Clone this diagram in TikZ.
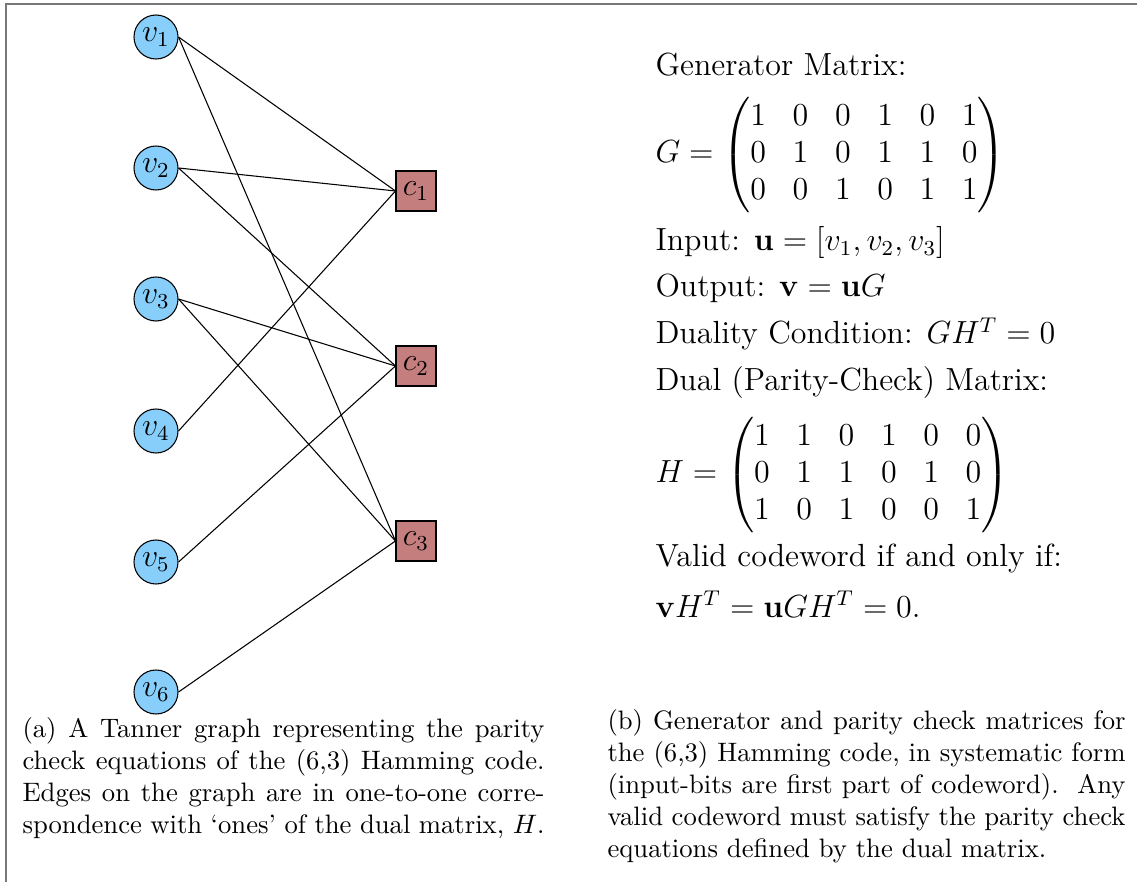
\documentclass[tikz,border=0pt]{standalone}
\usepackage{amsmath}
\definecolor{vblue}{RGB}{135,206,250}
\definecolor{cred}{RGB}{196,126,126}
\definecolor{framecol}{RGB}{120,120,120}
\begin{document}
\begin{tikzpicture}[x=0.375pt,y=-0.375pt,
  vnode/.style={circle,draw,fill=vblue,minimum size=16.5pt,inner sep=0pt,font=\large},
  cnode/.style={rectangle,draw,fill=cred,minimum size=15pt,inner sep=0pt,font=\large},
  link/.style={line width=0.4pt},
  txt/.style={anchor=base west,inner sep=0pt,font=\large},
  mat/.style={anchor=west,inner sep=0pt,font=\large},
  captxt/.style={anchor=base west,inner sep=0pt,font=\normalsize}]
\useasboundingbox (0,0) rectangle (1137,882);
\draw[framecol,line width=0.7pt] (6,882) -- (6,4) -- (1137,4);
% variable nodes
\node[vnode] (v1) at (156,37) {$v_1$};
\node[vnode] (v2) at (156,168) {$v_2$};
\node[vnode] (v3) at (156,299) {$v_3$};
\node[vnode] (v4) at (156,431) {$v_4$};
\node[vnode] (v5) at (156,562) {$v_5$};
\node[vnode] (v6) at (156,692) {$v_6$};
% check nodes
\node[cnode] (c1) at (416,191) {$c_1$};
\node[cnode] (c2) at (416,366) {$c_2$};
\node[cnode] (c3) at (416,541) {$c_3$};
% edges
\draw[link] (v1.east) -- (c1.west);
\draw[link] (v2.east) -- (c1.west);
\draw[link] (v4.east) -- (c1.west);
\draw[link] (v2.east) -- (c2.west);
\draw[link] (v3.east) -- (c2.west);
\draw[link] (v5.east) -- (c2.west);
\draw[link] (v1.east) -- (c3.west);
\draw[link] (v3.east) -- (c3.west);
\draw[link] (v6.east) -- (c3.west);
% caption (a)
\node[captxt] (ca1) at (22,737) {\makebox[195.75pt][s]{(a) A Tanner graph representing the parity}};
\node[captxt] (ca2) at (22,769) {\makebox[195.75pt][s]{check equations of the (6,3) Hamming code.}};
\node[captxt] (ca3) at (22,801) {\makebox[195.75pt][s]{Edges on the graph are in one-to-one corre-}};
\node[captxt] (ca4) at (22,833) {\makebox[195.75pt][s]{spondence with `ones' of the dual matrix, $H$.}};
% caption (b)
\node[captxt] (cb1) at (607,729) {\makebox[194.25pt][s]{(b) Generator and parity check matrices for}};
\node[captxt] (cb2) at (607,761) {\makebox[194.25pt][s]{the (6,3) Hamming code, in systematic form}};
\node[captxt] (cb3) at (607,793) {\makebox[194.25pt][s]{(input-bits are first part of codeword).\ \ Any}};
\node[captxt] (cb4) at (607,825) {\makebox[194.25pt][s]{valid codeword must satisfy the parity check}};
\node[captxt] (cb5) at (607,857) {equations defined by the dual matrix.};
% right column
\node[txt] (gen) at (655,76) {Generator Matrix:};
\node[mat] (Gm) at (655,155) {$G = \begin{pmatrix}1&0&0&1&0&1\\0&1&0&1&1&0\\0&0&1&0&1&1\end{pmatrix}$};
\node[txt] (inp) at (655,251) {Input: $\mathbf{u} = [v_1, v_2, v_3]$};
\node[txt] (outp) at (655,297) {Output: $\mathbf{v} = \mathbf{u}G$};
\node[txt] (dcond) at (655,344) {Duality Condition: $GH^T = 0$};
\node[txt] (dpc) at (655,391) {Dual (Parity-Check) Matrix:};
\node[mat] (Hm) at (655,475) {$H = \begin{pmatrix}1&1&0&1&0&0\\0&1&1&0&1&0\\1&0&1&0&0&1\end{pmatrix}$};
\node[txt] (valid) at (655,567) {Valid codeword if and only if:};
\node[txt] (veq) at (655,617) {$\mathbf{v}H^T = \mathbf{u}GH^T = 0.$};
\end{tikzpicture}
\end{document}
